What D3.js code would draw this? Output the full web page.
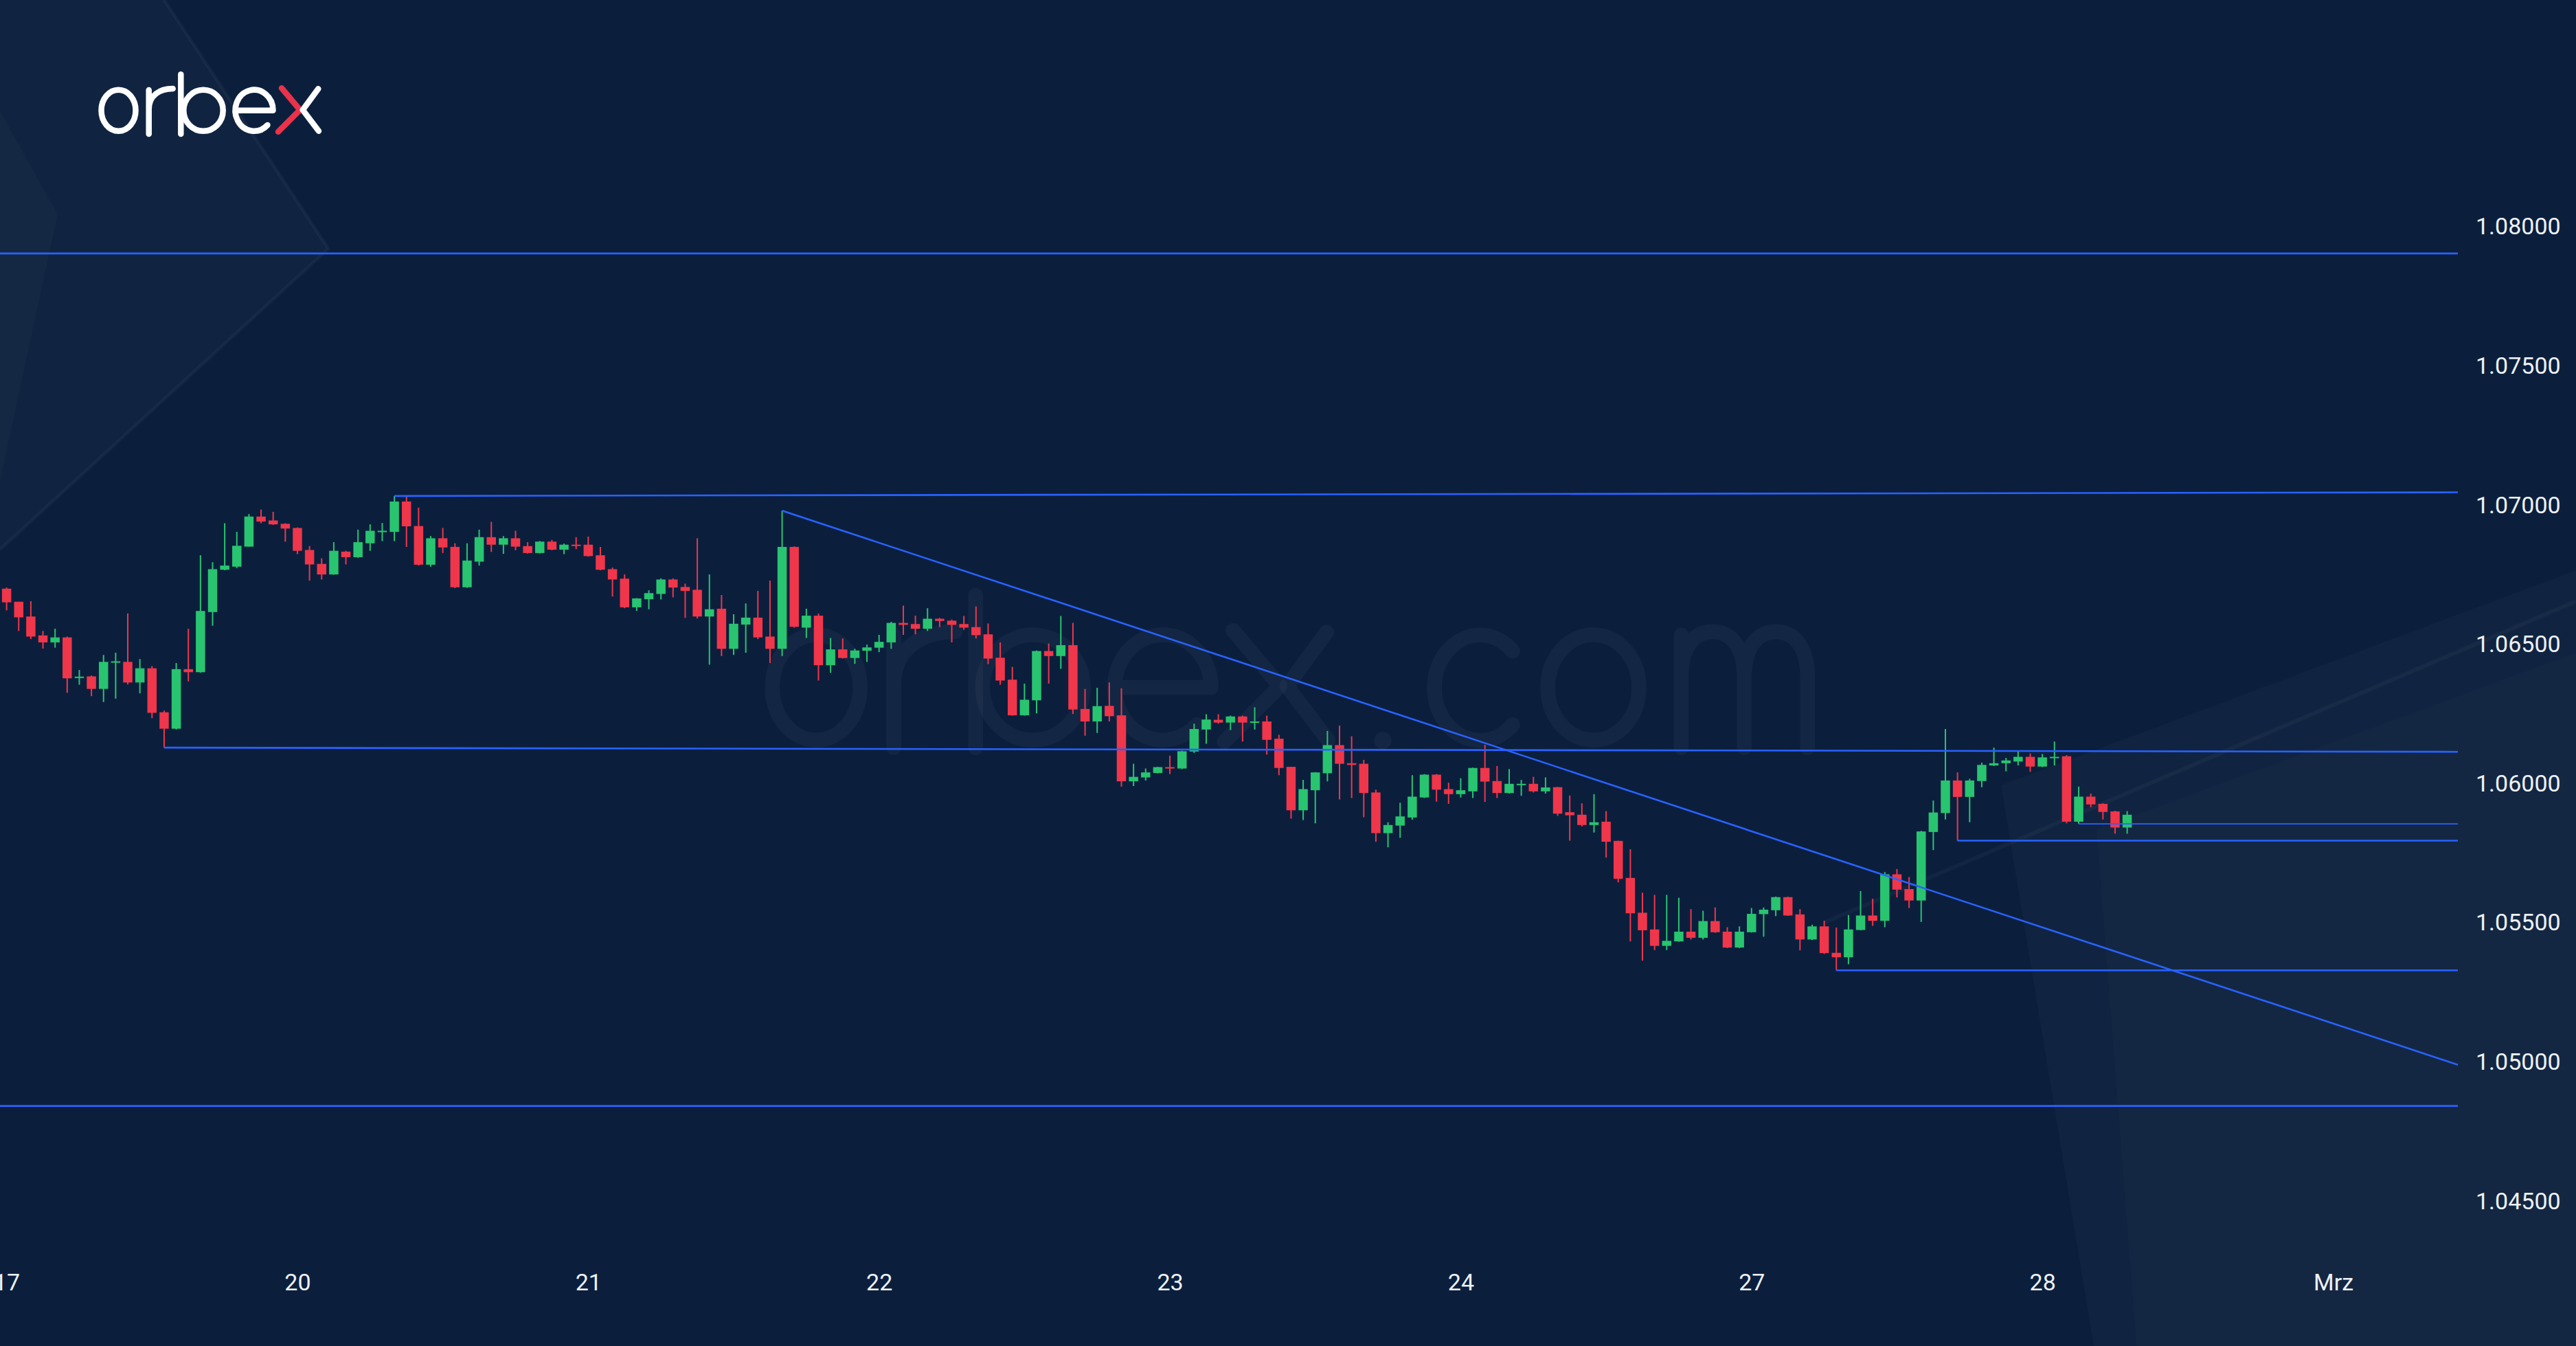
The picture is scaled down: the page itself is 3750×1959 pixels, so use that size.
<!DOCTYPE html>
<html><head><meta charset="utf-8">
<script src="https://cdn.jsdelivr.net/npm/d3@7"></script>
<style>html,body{margin:0;padding:0;background:#0b1f3d;overflow:hidden}</style>
</head><body>
<svg id="chart" width="3750" height="1959"></svg>
<script>
// ---------- DATA ----------
const dayLabels = ["17","20","21","22","23","24","27","28","Mrz"];
const dayLabelBars = [0,24,48,72,96,120,144,168,192];
const priceTicks = [1.045,1.05,1.055,1.06,1.065,1.07,1.075,1.08];

const open = [
1.06700,1.06653,1.06600,1.06532,1.06507,1.06525,1.06379,1.06385,1.06340,1.06435,1.06437,1.06363,
1.06414,1.06256,1.06197,1.06411,1.06400,1.06616,1.06768,1.06779,1.06851,1.06959,1.06945,1.06933,
1.06918,1.06839,1.06789,1.06751,1.06833,1.06813,1.06863,1.06904,1.06904,1.07013,1.06925,1.06786,
1.06881,1.06850,1.06705,1.06797,1.06885,1.06858,1.06881,1.06853,1.06828,1.06869,1.06840,1.06858,
1.06858,1.06820,1.06770,1.06736,1.06633,1.06662,1.06681,1.06733,1.06706,1.06696,1.06600,1.06628,
1.06484,1.06571,1.06596,1.06528,1.06484,1.06850,1.06560,1.06603,1.06425,1.06482,1.06451,1.06477,
1.06488,1.06507,1.06577,1.06573,1.06556,1.06592,1.06585,1.06573,1.06562,1.06536,1.06452,1.06373,
1.06245,1.06299,1.06476,1.06458,1.06497,1.06268,1.06223,1.06279,1.06245,1.06008,1.06022,1.06038,
1.06059,1.06054,1.06115,1.06194,1.06229,1.06219,1.06241,1.06219,1.06223,1.06161,1.06060,1.05904,
1.05976,1.06037,1.06138,1.06073,1.06071,1.05968,1.05822,1.05849,1.05878,1.05950,1.06032,1.05980,
1.05962,1.05972,1.06056,1.06009,1.05966,1.05995,1.05999,1.05972,1.05987,1.05897,1.05888,1.05851,
1.05863,1.05794,1.05661,1.05536,1.05476,1.05417,1.05433,1.05468,1.05446,1.05506,1.05468,1.05411,
1.05466,1.05531,1.05545,1.05592,1.05530,1.05440,1.05487,1.05392,1.05376,1.05474,1.05526,1.05507,
1.05674,1.05621,1.05580,1.05826,1.05894,1.06011,1.05952,1.06009,1.06065,1.06073,1.06079,1.06096,
1.06061,1.06092,1.06098,1.05863,1.05953,1.05927,1.05900,1.05842];
const high = [
1.06704,1.06653,1.06655,1.06548,1.06556,1.06528,1.06408,1.06388,1.06462,1.06470,1.06611,1.06447,
1.06422,1.06262,1.06433,1.06556,1.06820,1.06795,1.06935,1.06904,1.06968,1.06984,1.06976,1.06935,
1.06920,1.06853,1.06809,1.06867,1.06836,1.06912,1.06931,1.06936,1.07033,1.07033,1.06991,1.06889,
1.06918,1.06863,1.06863,1.06912,1.06940,1.06889,1.06908,1.06867,1.06871,1.06875,1.06862,1.06885,
1.06887,1.06850,1.06776,1.06751,1.06666,1.06694,1.06737,1.06737,1.06718,1.06881,1.06751,1.06677,
1.06608,1.06647,1.06692,1.06729,1.06980,1.06852,1.06628,1.06611,1.06523,1.06521,1.06484,1.06499,
1.06534,1.06581,1.06639,1.06603,1.06630,1.06595,1.06589,1.06602,1.06636,1.06575,1.06507,1.06419,
1.06359,1.06478,1.06503,1.06602,1.06577,1.06340,1.06344,1.06363,1.06342,1.06071,1.06054,1.06060,
1.06100,1.06118,1.06215,1.06249,1.06249,1.06244,1.06244,1.06274,1.06244,1.06175,1.06060,1.06013,
1.06041,1.06189,1.06208,1.06170,1.06085,1.05978,1.05861,1.05931,1.06030,1.06034,1.06034,1.06003,
1.06019,1.06057,1.06139,1.06063,1.06052,1.06013,1.06024,1.06022,1.05988,1.05957,1.05929,1.05962,
1.05901,1.05795,1.05764,1.05608,1.05600,1.05600,1.05590,1.05549,1.05543,1.05555,1.05484,1.05487,
1.05553,1.05555,1.05594,1.05594,1.05549,1.05493,1.05507,1.05483,1.05528,1.05614,1.05586,1.05682,
1.05693,1.05664,1.05830,1.05939,1.06196,1.06040,1.06017,1.06075,1.06129,1.06092,1.06115,1.06108,
1.06106,1.06151,1.06102,1.05989,1.05964,1.05929,1.05902,1.05901];
const low = [
1.06622,1.06548,1.06519,1.06485,1.06488,1.06326,1.06355,1.06314,1.06293,1.06305,1.06356,1.06324,
1.06235,1.06129,1.06194,1.06367,1.06398,1.06567,1.06766,1.06774,1.06851,1.06935,1.06929,1.06869,
1.06824,1.06729,1.06733,1.06750,1.06787,1.06811,1.06836,1.06871,1.06871,1.06850,1.06783,1.06779,
1.06828,1.06702,1.06703,1.06783,1.06832,1.06825,1.06838,1.06826,1.06826,1.06838,1.06824,1.06842,
1.06815,1.06766,1.06672,1.06630,1.06620,1.06626,1.06661,1.06669,1.06595,1.06593,1.06427,1.06458,
1.06462,1.06470,1.06519,1.06433,1.06458,1.06560,1.06523,1.06370,1.06398,1.06449,1.06430,1.06437,
1.06472,1.06484,1.06534,1.06536,1.06548,1.06562,1.06507,1.06552,1.06521,1.06429,1.06355,1.06244,
1.06244,1.06252,1.06359,1.06412,1.06250,1.06172,1.06182,1.06223,1.05989,1.05991,1.06011,1.06036,
1.06034,1.06052,1.06110,1.06143,1.06215,1.06192,1.06151,1.06194,1.06104,1.06030,1.05874,1.05869,
1.05857,1.06008,1.05943,1.05948,1.05879,1.05791,1.05771,1.05805,1.05870,1.05948,1.05935,1.05927,
1.05950,1.05948,1.05934,1.05948,1.05964,1.05956,1.05968,1.05964,1.05884,1.05795,1.05846,1.05824,
1.05734,1.05645,1.05433,1.05364,1.05402,1.05402,1.05432,1.05440,1.05440,1.05464,1.05409,1.05409,
1.05465,1.05450,1.05524,1.05525,1.05401,1.05438,1.05388,1.05329,1.05351,1.05473,1.05489,1.05484,
1.05591,1.05553,1.05503,1.05761,1.05871,1.05795,1.05861,1.05987,1.06063,1.06044,1.06065,1.06042,
1.06059,1.06065,1.05857,1.05855,1.05915,1.05871,1.05820,1.05820];
const close = [
1.06651,1.06597,1.06528,1.06507,1.06525,1.06378,1.06384,1.06340,1.06437,1.06439,1.06363,1.06414,
1.06254,1.06197,1.06411,1.06400,1.06620,1.06770,1.06783,1.06854,1.06959,1.06941,1.06931,1.06916,
1.06836,1.06787,1.06751,1.06836,1.06813,1.06867,1.06908,1.06908,1.07013,1.06924,1.06786,1.06881,
1.06848,1.06705,1.06801,1.06885,1.06858,1.06881,1.06851,1.06828,1.06869,1.06840,1.06858,1.06855,
1.06817,1.06768,1.06733,1.06633,1.06665,1.06684,1.06733,1.06704,1.06692,1.06600,1.06626,1.06484,
1.06574,1.06596,1.06525,1.06484,1.06850,1.06563,1.06603,1.06425,1.06482,1.06451,1.06478,1.06489,
1.06509,1.06577,1.06570,1.06556,1.06592,1.06584,1.06570,1.06560,1.06533,1.06449,1.06370,1.06245,
1.06301,1.06476,1.06458,1.06497,1.06266,1.06223,1.06278,1.06242,1.06008,1.06024,1.06040,1.06059,
1.06054,1.06116,1.06196,1.06230,1.06219,1.06241,1.06219,1.06223,1.06157,1.06056,1.05904,1.05980,
1.06040,1.06138,1.06071,1.06067,1.05966,1.05822,1.05851,1.05882,1.05953,1.06032,1.05978,1.05962,
1.05976,1.06056,1.06007,1.05966,1.05999,1.05999,1.05972,1.05986,1.05892,1.05886,1.05851,1.05861,
1.05791,1.05658,1.05534,1.05473,1.05417,1.05435,1.05468,1.05446,1.05506,1.05466,1.05411,1.05468,
1.05532,1.05547,1.05592,1.05526,1.05440,1.05487,1.05391,1.05376,1.05476,1.05526,1.05507,1.05674,
1.05619,1.05580,1.05828,1.05896,1.06011,1.05952,1.06011,1.06067,1.06073,1.06083,1.06096,1.06061,
1.06094,1.06096,1.05863,1.05953,1.05925,1.05898,1.05842,1.05888];

// drawn lines: anchor bar and price at start, price at chart's right edge
const lineStartBar   = [-2, 32, 13, 171, 161, 151, -2, 64];
const lineStartPrice = [1.07904, 1.07033, 1.06129, 1.05855, 1.05795, 1.05329, 1.04842, 1.06980];
const lineEndPrice   = [1.07904, 1.07046, 1.06114, 1.05855, 1.05795, 1.05329, 1.04842, 1.04990];
const lineThin       = [false, false, false, true, false, false, false, false];

// ---------- LAYOUT ----------
const W = 3750, H = 1959;
const plotRight = 3578;
const svg = d3.select("#chart");
const BG = "#0b1f3d";
svg.append("rect").attr("width", W).attr("height", H).attr("fill", BG);

const x = d3.scaleLinear().domain([0, 192]).range([9.6, 3396.5]);
const y = d3.scaleLinear().domain([1.045, 1.08]).range([1748.2, 330]);
const xEnd = x.invert(plotRight);

// ---------- background decoration ----------
const deco = svg.append("g");
deco.append("path").attr("d", "M0,0 L239,0 L478,362 L0,800 Z").attr("fill", "rgba(255,255,255,0.022)");
deco.append("path").attr("d", "M0,162 L84,312 L0,700 Z").attr("fill", "rgba(255,255,255,0.02)");
deco.append("path").attr("d", "M239,0 L478,362 L0,800").attr("fill", "none").attr("stroke", "rgba(255,255,255,0.035)").attr("stroke-width", 5);
deco.append("path").attr("d", "M2913,1143 L3750,830 L3750,1959 L3048,1959 Z").attr("fill", "rgba(255,255,255,0.025)");
deco.append("path").attr("d", "M3052,1207 L3750,950 L3750,1959 L3110,1959 Z").attr("fill", "rgba(255,255,255,0.015)");
deco.append("path").attr("d", "M2655,1343 L3750,875").attr("stroke", "rgba(255,255,255,0.03)").attr("stroke-width", 6);

// ---------- logo letters (local units) ----------
function letters(g, col, red, sw) {
  const st = (p, c) => g.append("path").attr("d", p).attr("fill", "none").attr("stroke", c)
      .attr("stroke-width", sw).attr("stroke-linecap", "round").attr("stroke-linejoin", "round");
  g.append("ellipse").attr("cx", 29.2).attr("cy", -34.2).attr("rx", 25).attr("ry", 30)
    .attr("fill", "none").attr("stroke", col).attr("stroke-width", sw);
  st("M73.4,0 L73.4,-64 M73.4,-36 C73.4,-56 89,-66 108.4,-66", col);
  st("M120,0 L120,-86.7", col);
  g.append("ellipse").attr("cx", 152.7).attr("cy", -34.2).attr("rx", 28.7).attr("ry", 30)
    .attr("fill", "none").attr("stroke", col).attr("stroke-width", sw);
  st("M199.2,-34.2 L254.2,-34.2 M254.2,-34.2 A27.5,30 0 1 0 246.1,-13", col);
  st("M266.7,-66.7 L293.4,-35 L261.7,-3.3", red);
  st("M320,-65.7 L297.4,-35 L320.7,-4.3", col);
}
const logo = svg.append("g").attr("transform", "translate(143.3,195)");
letters(logo, "#ffffff", "#e8334a", 8.5);

const wm = svg.append("g").attr("transform", "translate(1113.6,1088) scale(2.555)");
const wmc = "rgba(255,255,255,0.035)";
letters(wm, wmc, wmc, 8.5);
wm.append("circle").attr("cx", 352).attr("cy", -4).attr("r", 5).attr("fill", wmc);
wm.append("path").attr("d", "M426,-55 A26,30 0 1 0 426,-13").attr("fill", "none").attr("stroke", wmc).attr("stroke-width", 8.5).attr("stroke-linecap", "round");
wm.append("ellipse").attr("cx", 472).attr("cy", -34.2).attr("rx", 26).attr("ry", 30).attr("fill", "none").attr("stroke", wmc).attr("stroke-width", 8.5);
wm.append("path").attr("d", "M522,0 L522,-64 M522,-40 C522,-58 530,-66 540,-66 C550,-66 558,-58 558,-40 L558,0 M558,-40 C558,-58 566,-66 576,-66 C586,-66 594,-58 594,-40 L594,0")
  .attr("fill", "none").attr("stroke", wmc).attr("stroke-width", 8.5).attr("stroke-linecap", "round");

// ---------- candles ----------
const bars = d3.range(open.length).map(i => ({i, o: open[i], h: high[i], l: low[i], c: close[i]}));
const GREEN = "#29c46f", RED = "#f0364a";
const bodyW = 13.5;
const cg = svg.append("g");
cg.selectAll("line.w").data(bars).join("line")
  .attr("x1", d => x(d.i)).attr("x2", d => x(d.i))
  .attr("y1", d => y(d.h)).attr("y2", d => y(d.l))
  .attr("stroke", d => d.c >= d.o ? GREEN : RED).attr("stroke-width", 2);
cg.selectAll("rect.b").data(bars).join("rect")
  .attr("x", d => x(d.i) - bodyW / 2).attr("width", bodyW)
  .attr("y", d => y(Math.max(d.o, d.c)))
  .attr("height", d => Math.max(2, Math.abs(y(d.o) - y(d.c))))
  .attr("fill", d => d.c >= d.o ? GREEN : RED);

// ---------- drawn lines ----------
const lg = svg.append("g");
lineStartBar.forEach((b, k) => {
  lg.append("line")
    .attr("x1", Math.max(0, x(b))).attr("x2", x(xEnd))
    .attr("y1", y(lineStartPrice[k] + (lineEndPrice[k] - lineStartPrice[k]) * (Math.max(x.invert(0), b) - b) / (xEnd - b)))
    .attr("y2", y(lineEndPrice[k]))
    .attr("stroke", "#2962ff").attr("stroke-width", lineThin[k] ? 1.6 : 2.6);
});

// ---------- axes ----------
const font = "Roboto, 'Open Sans', sans-serif";
const yAxis = d3.axisRight(y).tickValues(priceTicks).tickFormat(d3.format(".5f")).tickSize(0).tickPadding(0);
const ya = svg.append("g").attr("transform", "translate(3604,0)").call(yAxis);
ya.select(".domain").remove();
ya.selectAll("text").attr("fill", "#eef1f6").style("font-family", font).style("font-size", "34px");

const xAxis = d3.axisBottom(x).tickValues(dayLabelBars).tickFormat((d, i) => dayLabels[i]).tickSize(0).tickPadding(0);
const xa = svg.append("g").attr("transform", "translate(0,1854)").call(xAxis);
xa.select(".domain").remove();
xa.selectAll("text").attr("fill", "#eef1f6").style("font-family", font).style("font-size", "34px");
</script>
</body></html>
